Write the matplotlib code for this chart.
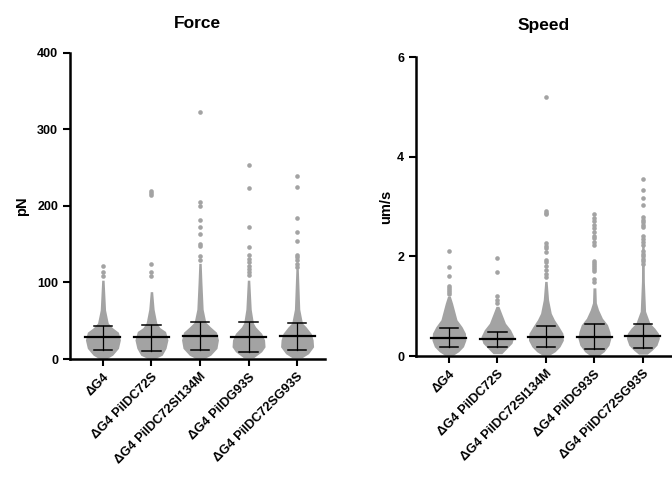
import numpy as np
import matplotlib
matplotlib.use("Agg")
import matplotlib.pyplot as plt

plt.rcParams['font.family'] = ['Liberation Sans', 'DejaVu Sans']
plt.rcParams['font.weight'] = 'bold'

groups = ['ΔG4', 'ΔG4 PilDC72S', 'ΔG4 PilDC72SI134M', 'ΔG4 PilDG93S', 'ΔG4 PilDC72SG93S']

# median / quartiles
force_median = [28.4, 28.6, 30.5, 29.0, 30.0]
force_q1 = [11.8, 10.5, 11.8, 8.8, 11.8]
force_q3 = [43.5, 45.0, 48.8, 48.0, 47.5]

speed_median = [0.37, 0.335, 0.39, 0.39, 0.40]
speed_q1 = [0.18, 0.19, 0.18, 0.135, 0.155]
speed_q3 = [0.56, 0.48, 0.61, 0.65, 0.64]

# outline of the dense swarm: value levels and full width (in category units)
force_levels = [
    [1, 5, 14, 25, 35, 41, 47, 64, 103],
    [1, 5, 14, 25, 36, 41, 47, 65, 88],
    [1, 5, 14, 25, 35, 42, 48, 65, 100, 125],
    [2, 9.6, 16, 25, 33.5, 42, 47, 65, 103],
    [2, 7, 16, 25, 33.5, 42, 47, 65, 118],
]
force_widths = [
    [0.18, 0.40, 0.64, 0.72, 0.64, 0.39, 0.22, 0.11, 0.05],
    [0.18, 0.44, 0.60, 0.68, 0.58, 0.35, 0.22, 0.11, 0.05],
    [0.20, 0.44, 0.70, 0.76, 0.68, 0.43, 0.24, 0.13, 0.08, 0.05],
    [0.22, 0.54, 0.68, 0.66, 0.54, 0.29, 0.20, 0.11, 0.05],
    [0.22, 0.47, 0.68, 0.66, 0.58, 0.37, 0.22, 0.11, 0.05],
]
force_outliers = [
    [121, 114, 108],
    [220, 217, 214, 124, 114, 108],
    [323, 205, 200, 182, 172, 163, 150, 147, 135, 130],
    [254, 224, 173, 146, 136, 131, 127, 122, 118, 114, 110],
    [239, 225, 184, 166, 154, 136, 133, 129, 124, 120],
]

speed_levels = [
    [0.02, 0.09, 0.19, 0.32, 0.46, 0.59, 0.73, 1.06, 1.2],
    [0.05, 0.16, 0.26, 0.39, 0.53, 0.66, 0.86, 1.0],
    [0.03, 0.09, 0.19, 0.32, 0.46, 0.59, 0.73, 0.86, 1.13, 1.5],
    [0.01, 0.09, 0.22, 0.36, 0.49, 0.63, 0.76, 0.93, 1.07, 1.37],
    [0.04, 0.12, 0.22, 0.36, 0.46, 0.56, 0.66, 0.9, 1.5, 2.28],
]
speed_widths = [
    [0.18, 0.40, 0.60, 0.70, 0.68, 0.54, 0.33, 0.15, 0.06],
    [0.18, 0.40, 0.60, 0.68, 0.54, 0.33, 0.17, 0.06],
    [0.18, 0.38, 0.58, 0.72, 0.70, 0.54, 0.35, 0.22, 0.11, 0.05],
    [0.18, 0.40, 0.60, 0.68, 0.64, 0.54, 0.33, 0.17, 0.08, 0.06],
    [0.18, 0.38, 0.58, 0.68, 0.64, 0.49, 0.29, 0.11, 0.06, 0.05],
]
speed_outliers = [
    [2.11, 1.79, 1.60, 1.40, 1.36, 1.32, 1.28, 1.24],
    [1.96, 1.68, 1.21, 1.12, 1.06],
    [5.2, 2.91, 2.88, 2.85, 2.27, 2.22, 2.17, 2.08, 1.92, 1.88, 1.80, 1.72, 1.65, 1.58],
    [2.85, 2.78, 2.71, 2.64, 2.57, 2.50, 2.41, 2.38, 2.30, 2.23, 1.90, 1.86,
     1.82, 1.78, 1.74, 1.70, 1.55, 1.48],
    [3.56, 3.34, 3.17, 3.03, 2.79, 2.74, 2.69, 2.64, 2.59, 2.42, 2.36, 2.30,
     2.24, 2.11, 2.05, 2.00, 1.95, 1.90, 1.84],
]

GRAY = '#a3a3a3'


def draw_panel(ax, levels, widths, outliers, med, q1, q3):
    for i in range(len(groups)):
        lv = np.array(levels[i])
        w = np.array(widths[i]) / 2
        ax.fill_betweenx(lv, i - w, i + w, color=GRAY, lw=0, zorder=1)
        ax.scatter([i] * len(outliers[i]), outliers[i], s=11, color=GRAY,
                   lw=0, zorder=1)
        ax.plot([i, i], [q1[i], q3[i]], color='black', lw=0.9, zorder=3)
        ax.plot([i - 0.19, i + 0.19], [q1[i], q1[i]], color='black', lw=1.1, zorder=3)
        ax.plot([i - 0.19, i + 0.19], [q3[i], q3[i]], color='black', lw=1.1, zorder=3)
        ax.plot([i - 0.36, i + 0.36], [med[i], med[i]], color='black', lw=1.6, zorder=3)

    ax.spines['top'].set_visible(False)
    ax.spines['right'].set_visible(False)
    ax.spines['left'].set_linewidth(1.8)
    ax.spines['bottom'].set_linewidth(1.8)
    ax.tick_params(width=1.5, length=5, labelsize=9)
    ax.set_xticks(range(len(groups)))
    ax.set_xticklabels(groups, rotation=45, ha='right', rotation_mode='anchor',
                       fontsize=9.3, fontweight='bold')


fig = plt.figure(figsize=(6.72, 4.8), dpi=100)

ax1 = fig.add_axes([0.104, 0.252, 0.380, 0.638])
draw_panel(ax1, force_levels, force_widths, force_outliers,
           force_median, force_q1, force_q3)
ax1.set_xlim(-0.68, 4.58)
ax1.set_ylim(0, 400)
ax1.set_yticks([0, 100, 200, 300, 400])
ax1.set_title('Force', fontsize=12.5, fontweight='bold', pad=17.5)
ax1.set_ylabel('pN', fontsize=10.5, fontweight='bold', labelpad=6)

ax2 = fig.add_axes([0.619, 0.258, 0.381, 0.623])
draw_panel(ax2, speed_levels, speed_widths, speed_outliers,
           speed_median, speed_q1, speed_q3)
ax2.set_xlim(-0.68, 4.6)
ax2.set_ylim(0, 6)
ax2.set_yticks([0, 2, 4, 6])
ax2.set_title('Speed', fontsize=12.5, fontweight='bold', pad=19.5)
ax2.set_ylabel('um/s', fontsize=10.5, fontweight='bold', labelpad=3)

fig.savefig('out.png', dpi=100)
